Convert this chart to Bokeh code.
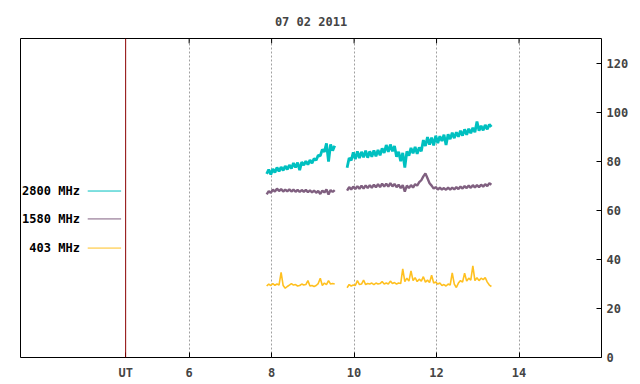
from bokeh.plotting import figure
from bokeh.models import Range1d, FixedTicker, Span, Label
from bokeh.embed import file_html
from bokeh.resources import INLINE

title_text = "07 02 2011"
x_ticks = [6, 8, 10, 12, 14]
y_ticks = [0, 20, 40, 60, 80, 100, 120]
ut_pos = 4.46
x_min, x_max = 1.91, 16.0
y_min, y_max = 0, 130.3

labels = ["2800 MHz", "1580 MHz", "403 MHz"]
colors = ["#00c0c0", "#806080", "#ffc020"]

# sample clock of the read-off values (hours UT)
t1_start, t2_start, dt = 7.88, 9.83, 0.05

c2800_a = [75.0, 76.8, 74.8, 77.0, 75.6, 77.6, 76.0, 77.8, 76.4, 78.2, 76.8, 78.6, 77.2, 79.4, 77.6, 79.6,
           76.5, 79.8, 78.6, 80.2, 78.8, 80.6, 79.4, 81.2, 80.6, 82.6, 82.4, 85.0, 84.0, 87.5, 80.0, 87.0,
           84.5, 86.5]
c2800_b = [77.5, 81.5, 80.5, 83.8, 81.0, 84.2, 81.5, 84.0, 81.8, 84.5, 81.6, 84.2, 82.0, 84.6, 82.2, 84.8,
           82.6, 85.4, 83.6, 86.8, 84.0, 87.0, 84.2, 86.4, 82.0, 84.0, 80.2, 83.6, 77.6, 84.2, 82.4, 85.6,
           83.4, 86.0, 83.2, 85.8, 84.2, 88.8, 86.4, 90.0, 87.0, 89.8, 86.6, 90.6, 87.6, 90.4, 88.4, 91.0,
           86.8, 91.2, 89.2, 91.8, 89.6, 92.0, 90.2, 92.6, 90.6, 93.2, 91.0, 93.4, 91.6, 93.8, 92.0, 96.4,
           92.6, 94.6, 92.8, 95.0, 93.2, 95.2, 94.2]
c1580_a = [66.6, 68.0, 67.2, 68.6, 67.8, 69.0, 68.0, 68.8, 67.8, 68.6, 67.9, 68.7, 67.8, 68.6, 67.7, 68.5,
           67.6, 68.4, 67.7, 68.5, 67.5, 68.3, 67.4, 68.2, 67.3, 68.0, 66.8, 68.2, 67.4, 68.6, 66.6, 68.4,
           67.6, 68.4]
c1580_b = [68.2, 69.6, 68.6, 69.8, 68.8, 70.0, 68.9, 70.2, 69.0, 70.3, 69.2, 70.4, 69.3, 70.6, 69.5, 70.8,
           69.6, 71.0, 69.8, 71.0, 69.8, 71.2, 69.9, 70.9, 69.6, 70.6, 69.2, 70.4, 67.8, 70.2, 69.2, 70.4,
           69.4, 70.8, 70.2, 71.6, 72.4, 74.0, 75.2, 73.2, 71.2, 70.2, 69.0, 69.6, 68.6, 69.4, 68.6, 69.2,
           68.5, 69.4, 68.6, 69.4, 68.7, 69.6, 68.8, 69.8, 69.0, 70.0, 69.2, 70.2, 69.3, 70.4, 69.4, 70.4,
           69.6, 70.6, 69.8, 70.8, 70.0, 71.2, 70.6]
c403_a = [29.2, 30.0, 29.4, 30.2, 29.5, 30.0, 29.6, 34.8, 29.4, 28.3, 29.0, 29.6, 30.2, 29.6, 29.8, 29.2,
          29.4, 30.0, 29.6, 29.8, 31.4, 29.2, 29.4, 29.0, 29.4, 30.2, 32.4, 29.4, 30.4, 29.8, 31.4, 30.0,
          30.2, 30.0]
c403_b = [28.5, 29.8, 29.2, 29.6, 29.4, 31.4, 29.8, 30.0, 31.6, 29.8, 30.2, 30.0, 30.4, 29.8, 30.4, 30.0,
          30.2, 31.0, 30.0, 30.4, 30.0, 31.2, 30.2, 30.6, 30.0, 30.4, 30.2, 36.2, 31.0, 32.4, 31.2, 35.4,
          31.4, 32.6, 31.0, 32.0, 31.2, 33.0, 30.8, 31.6, 30.6, 33.6, 30.4, 30.8, 30.0, 30.4, 29.4, 29.8,
          29.2, 30.0, 29.6, 34.6, 30.0, 28.6, 30.4, 31.4, 30.8, 34.4, 31.2, 32.4, 31.6, 37.4, 31.4, 32.6,
          31.4, 32.4, 31.8, 32.6, 30.8, 29.6, 29.0]

FONT = "DejaVu Sans Mono"
FS = "12px"

t1 = [round(t1_start + dt * i, 3) for i in range(len(c2800_a))]
t2 = [round(t2_start + dt * i, 3) for i in range(len(c2800_b))]

p = figure(frame_width=581, frame_height=319, output_backend="svg", toolbar_location=None,
           x_range=Range1d(x_min, x_max), y_range=Range1d(y_min, y_max),
           y_axis_location="right", min_border_left=20, min_border_right=31,
           min_border_top=38, min_border_bottom=23)
p.background_fill_color = "white"
p.border_fill_color = "white"
p.outline_line_color = "black"
p.outline_line_width = 1

p.title.text = title_text
p.title.align = "center"
p.title.text_font = FONT
p.title.text_font_size = FS
p.title.text_font_style = "bold"
p.title.standoff = 20

xa = p.xaxis[0]
xa.ticker = FixedTicker(ticks=[ut_pos] + x_ticks)
xa.major_label_overrides = {ut_pos: "UT"}
xa.major_tick_in = 5
xa.major_tick_out = 0
xa.minor_tick_line_color = None
xa.axis_line_color = None
xa.major_label_text_font = FONT
xa.major_label_text_font_size = FS
xa.major_label_text_font_style = "bold"
xa.major_label_standoff = 8

ya = p.yaxis[0]
ya.ticker = FixedTicker(ticks=y_ticks)
ya.major_tick_in = 5
ya.major_tick_out = 0
ya.minor_tick_line_color = None
ya.axis_line_color = None
ya.major_label_text_font = FONT
ya.major_label_text_font_size = FS
ya.major_label_text_font_style = "bold"
ya.major_label_standoff = 5

p.ygrid.visible = False
p.xgrid.ticker = FixedTicker(ticks=x_ticks)
p.xgrid.grid_line_color = "#a0a0a0"
p.xgrid.grid_line_dash = "2 2"

# top tick marks
p.segment(x0=x_ticks, x1=x_ticks, y0=[y_max] * len(x_ticks), y1=[y_max - 2] * len(x_ticks),
          line_color="black", line_width=1)

p.add_layout(Span(location=ut_pos, dimension="height", line_color="#8b0000", line_width=1))

widths = [2.8, 2.8, 2.4, 2.4, 1.6, 1.6]
for (tt, ys, col), lw in zip([(t1, c2800_a, colors[0]), (t2, c2800_b, colors[0]),
                              (t1, c1580_a, colors[1]), (t2, c1580_b, colors[1]),
                              (t1, c403_a, colors[2]), (t2, c403_b, colors[2])], widths):
    p.line(tt, ys, line_color=col, line_width=lw)

# legend: label left, sample line right
leg_y = [68.0, 56.6, 44.7]
leg_x0, leg_x1, leg_tx = 3.54, 4.35, 3.35
for lab, col, yy in zip(labels, colors, leg_y):
    p.segment(x0=[leg_x0], x1=[leg_x1], y0=[yy], y1=[yy], line_color=col, line_width=1)
    p.add_layout(Label(x=leg_tx, y=yy, text=lab, text_align="right", text_baseline="middle",
                       text_font=FONT, text_font_size=FS, text_font_style="bold",
                       text_color="black"))

open("out.html", "w").write(file_html(p, INLINE))
